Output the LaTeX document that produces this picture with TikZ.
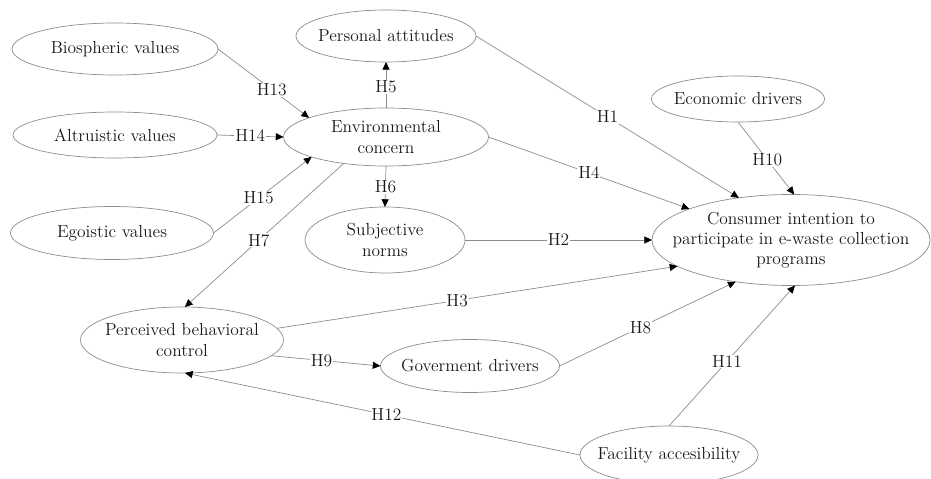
\documentclass[tikz,border=0pt]{standalone}
\usepackage{tikz}
\usetikzlibrary{shapes.geometric}
\usetikzlibrary{arrows.meta}

\begin{document}
\begin{tikzpicture}[
  construct/.style={draw=black!45, ellipse, line width=0.5pt, inner sep=0cm,
       outer sep=0cm},
  ctext/.style={align=center, text=black!90, inner sep=0cm,
       font=\fontsize{12.4}{14.4}\selectfont},
  edge/.style={draw=black!45, line width=0.5pt,
       -{Triangle[length=5.5pt, width=5pt, black]}},
  hlab/.style={fill=white, inner sep=0.6pt, text=black!90,
       font=\fontsize{12.4}{14.4}\selectfont}
]
\useasboundingbox (0,0) rectangle (23.275,11.95);

\node (bio) at (2.875, 10.725) [construct, minimum width=5.15cm, minimum height=1.3cm,
  label={[ctext]center:Biospheric values}] {};
\node (alt) at (2.875, 8.575) [construct, minimum width=5.1cm, minimum height=1.15cm,
  label={[ctext]center:Altruistic values}] {};
\node (ego) at (2.8, 6.125) [construct, minimum width=5.075cm, minimum height=1.325cm,
  label={[ctext]center:Egoistic values}] {};
\node (pa) at (9.65, 11.05) [construct, minimum width=4.5cm, minimum height=1.3cm,
  label={[ctext]center:Personal attitudes}] {};
\node (env) at (9.65, 8.525) [construct, minimum width=5.125cm, minimum height=1.45cm,
  label={[ctext]center:Environmental\\concern}] {};
\node (sub) at (9.625, 5.95) [construct, minimum width=4.0cm, minimum height=1.65cm,
  label={[ctext]center:Subjective\\norms}] {};
\node (eco) at (18.45, 9.475) [construct, minimum width=4.325cm, minimum height=1.15cm,
  label={[ctext]center:Economic drivers}] {};
\node (con) at (19.775, 5.95) [construct, minimum width=6.95cm, minimum height=2.275cm,
  label={[ctext]center:Consumer intention to\\participate in e-waste collection\\programs}] {};
\node (pbc) at (4.55, 3.45) [construct, minimum width=5.075cm, minimum height=1.65cm,
  label={[ctext]center:Perceived behavioral\\control}] {};
\node (gov) at (11.75, 2.8) [construct, minimum width=4.475cm, minimum height=1.325cm,
  label={[ctext]center:Goverment drivers}] {};
\node (fac) at (16.725, 0.575) [construct, minimum width=4.45cm, minimum height=1.45cm,
  label={[ctext]center:Facility accesibility}] {};

\draw[edge] (bio.east) -- node[hlab, pos=0.59] {H13} (env.166);
\draw[edge] (alt.east) -- node[hlab, pos=0.5] {H14} (env.west);
\draw[edge] (ego.east) -- node[hlab, pos=0.46] {H15} (env.195);
\draw[edge] (env.north) -- node[hlab, pos=0.46] {H5} (pa.south);
\draw[edge] (env.south) -- node[hlab, pos=0.51] {H6} (sub.north);
\draw[edge] (env.212) -- node[hlab, pos=0.535] {H7} (pbc.85);
\draw[edge] (pa.east) -- node[hlab, pos=0.5] {H1} (con.141);
\draw[edge] (env.east) -- node[hlab, pos=0.5] {H4} (con.163);
\draw[edge] (eco.south) -- node[hlab, pos=0.52] {H10} (con.86);
\draw[edge] (sub.east) -- node[hlab, pos=0.5] {H2} (con.west);
\draw[edge] (pbc.7) -- node[hlab, pos=0.45] {H3} (con.193);
\draw[edge] (pbc.350) -- node[hlab, pos=0.46] {H9} (gov.west);
\draw[edge] (gov.east) -- node[hlab, pos=0.46] {H8} (con.217);
\draw[edge] (fac.north) -- node[hlab, pos=0.46] {H11} (con.275);
\draw[edge] (fac.west) -- node[hlab, pos=0.49] {H12} (pbc.275);
\end{tikzpicture}
\end{document}
